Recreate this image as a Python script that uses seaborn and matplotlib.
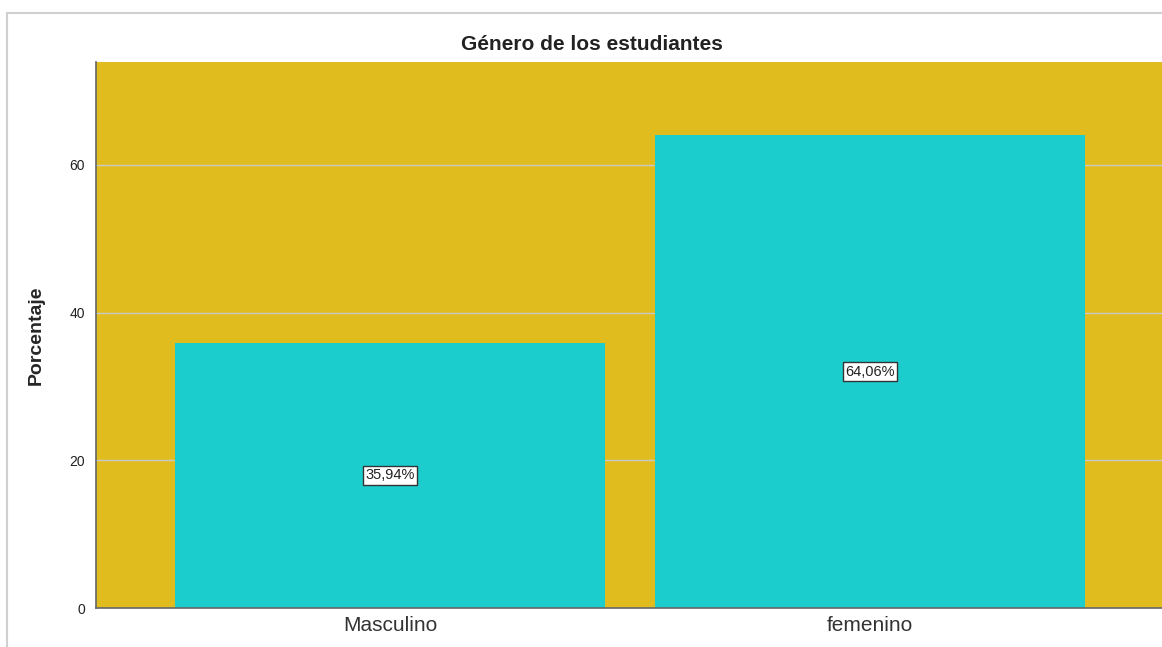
import matplotlib
matplotlib.use("Agg")
import matplotlib.pyplot as plt
import pandas as pd
import seaborn as sns
from matplotlib.patches import Rectangle

# datos
generos = ["Masculino", "femenino"]
porcentajes = [35.94, 64.06]
etiquetas = ["35,94%", "64,06%"]

df = pd.DataFrame({"genero": generos, "porcentaje": porcentajes})

sns.set_style("white")
plt.rcParams["font.family"] = ["Liberation Sans", "DejaVu Sans"]

fig = plt.figure(figsize=(11.62, 6.47), dpi=100)
ax = fig.add_axes([96 / 1162, 39 / 647, 1 - 96 / 1162, 546 / 647])

# marco exterior (cortado a la derecha y abajo)
fig.patches.append(Rectangle((7 / 1162, -0.1), 1.2, 634 / 647 + 0.1, transform=fig.transFigure,
                             fill=False, edgecolor="#d0d0d0", linewidth=1.5))

ax.set_facecolor("#E1BC1F")
sns.barplot(data=df, x="genero", y="porcentaje", color="#1CCDCD", width=0.896,
            saturation=1, linewidth=0, ax=ax, zorder=2)

for i, (v, t) in enumerate(zip(porcentajes, etiquetas)):
    ax.text(i, v / 2, t, ha="center", va="center", fontsize=10.5, color="#222222", zorder=4,
            bbox=dict(boxstyle="square,pad=0.15", facecolor="white", edgecolor="#333333", linewidth=1))

ax.set_xlim(-0.6125, 1.608)
ax.set_ylim(0, 73.95)
ax.set_yticks([0, 20, 40, 60])
ax.yaxis.grid(True, color="#c8c8c8", linewidth=1, zorder=1)
ax.set_axisbelow(True)
ax.tick_params(axis="y", length=0, labelsize=10, pad=8, labelcolor="#222222")
ax.tick_params(axis="x", length=0, labelsize=15, pad=6, labelcolor="#333333")
ax.set_xlabel("")
ax.set_ylabel("Porcentaje", fontsize=14, fontweight="bold", labelpad=18)

for s in ["top", "right"]:
    ax.spines[s].set_visible(False)
for s in ["left", "bottom"]:
    ax.spines[s].set_color("#666666")
    ax.spines[s].set_linewidth(1.2)

fig.text(592 / 1162, 1 - 45 / 647, "Género de los estudiantes", ha="center", va="center",
         fontsize=15, fontweight="bold", color="#222222")

fig.savefig("out.png", dpi=100)
